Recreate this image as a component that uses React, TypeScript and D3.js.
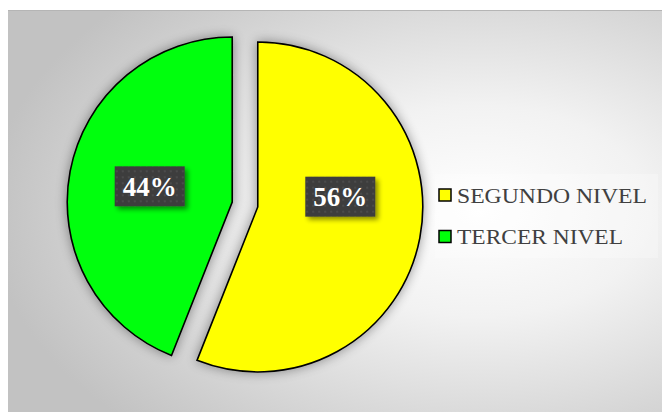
import React from 'react'
import * as d3 from 'd3'

const categories = ['SEGUNDO NIVEL', 'TERCER NIVEL']
const values = [56, 44]
const colors = ['#ffff00', '#00ff0a']
const labelNudge = [-26, 0]

const width = 662
const height = 412
const cx = 245
const cy = 204.5
const radius = 165
const explode = 13
const serif = 'Liberation Serif, Times New Roman, Times, serif'

function App() {
  const pie = d3.pie<number>().sort(null).value(d => d)
  const arcs = pie(values)
  const arc = d3.arc<d3.PieArcDatum<number>>().innerRadius(0).outerRadius(radius)
  const labelArc = d3.arc<d3.PieArcDatum<number>>().innerRadius(84).outerRadius(84)
  const dirArc = d3.arc<d3.PieArcDatum<number>>().innerRadius(explode).outerRadius(explode)

  return (
    <svg width={width} height={height} style={{ position: 'absolute', left: 0, top: 0 }}>
      <defs>
        <radialGradient id="bg" cx="0.72" cy="0.5" r="0.75">
          <stop offset="0" stopColor="#ffffff" />
          <stop offset="0.35" stopColor="#f2f2f2" />
          <stop offset="1" stopColor="#c2c2c2" />
        </radialGradient>
        <filter id="glow" x="-20%" y="-20%" width="140%" height="140%">
          <feGaussianBlur in="SourceAlpha" stdDeviation="6" />
          <feComponentTransfer>
            <feFuncA type="linear" slope="0.4" />
          </feComponentTransfer>
          <feMerge>
            <feMergeNode />
            <feMergeNode in="SourceGraphic" />
          </feMerge>
        </filter>
        <filter id="boxShadow" x="-30%" y="-30%" width="160%" height="160%">
          <feGaussianBlur in="SourceAlpha" stdDeviation="2.5" />
          <feOffset dx="3" dy="3" />
          <feComponentTransfer>
            <feFuncA type="linear" slope="0.45" />
          </feComponentTransfer>
          <feMerge>
            <feMergeNode />
            <feMergeNode in="SourceGraphic" />
          </feMerge>
        </filter>
        <pattern id="dots" width="6" height="6" patternUnits="userSpaceOnUse">
          <rect width="6" height="6" fill="#3d3d3d" />
          <rect x="2" y="2" width="2" height="2" fill="#4c4c4c" />
        </pattern>
      </defs>

      <rect x={0} y={0} width={width} height={height} fill="#ffffff" />
      <rect x={8} y={10} width={width - 8} height={height - 10} fill="url(#bg)" />
      <line x1={8} x2={width} y1={10.5} y2={10.5} stroke="#b5b5b5" strokeWidth={1} />

      <g transform={`translate(${cx},${cy})`}>
        {arcs.map((a, i) => {
          const [ox, oy] = dirArc.centroid(a)
          return (
            <path
              key={categories[i]}
              d={arc(a) || ''}
              transform={`translate(${ox},${oy})`}
              fill={colors[i]}
              stroke="#000"
              strokeWidth={1.6}
              strokeLinejoin="miter"
              filter="url(#glow)"
            />
          )
        })}
        {arcs.map((a, i) => {
          const [ox, oy] = dirArc.centroid(a)
          const [lx, ly] = labelArc.centroid(a)
          const x = lx + ox
          const y = ly + oy + labelNudge[i]
          return (
            <g key={'l' + i} transform={`translate(${x},${y})`}>
              <rect x={-35} y={-20} width={70} height={40} fill="url(#dots)" filter="url(#boxShadow)" />
              <text
                textAnchor="middle"
                y={9.5}
                fill="#ffffff"
                style={{ fontFamily: serif, fontWeight: 'bold', fontSize: '27px' }}
              >
                {`${a.data}%`}
              </text>
            </g>
          )
        })}
      </g>

      <g>
        <rect x={435} y={174} width={223} height={84} fill="#ffffff" opacity={0.25} />
        {categories.map((c, i) => (
          <g key={c} transform={`translate(439,${189 + i * 41.5})`}>
            <rect x={0} y={0} width={12} height={12} fill={colors[i]} stroke="#000" strokeWidth={1.5} />
            <text
              x={18}
              y={13.5}
              fill="#404040"
              style={{ fontFamily: serif, fontSize: '22px' }}
              textLength={i === 0 ? 190 : 166}
              lengthAdjust="spacingAndGlyphs"
            >
              {c}
            </text>
          </g>
        ))}
      </g>
    </svg>
  )
}

export default App
